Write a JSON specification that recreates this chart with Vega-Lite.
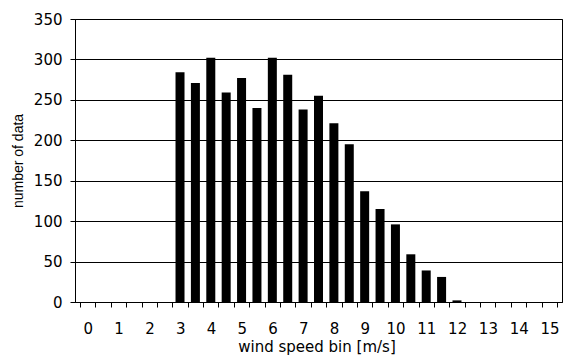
{
  "$schema": "https://vega.github.io/schema/vega-lite/v6.json",
  "width": 487,
  "height": 283,
  "autosize": "none",
  "padding": {"left": 75, "top": 19, "right": 1, "bottom": 54},
  "background": "white",
  "config": {
    "view": {"stroke": "black", "strokeWidth": 1},
    "axis": {
      "labelFont": "DejaVu Sans",
      "labelFontSize": 15,
      "labelColor": "black",
      "titleFont": "DejaVu Sans",
      "titleFontSize": 15,
      "titleFontWeight": "normal",
      "titleColor": "black",
      "domainColor": "black",
      "tickColor": "black",
      "gridColor": "black",
      "gridOpacity": 1
    }
  },
  "data": {
    "values": [
      {"speed": 3, "count": 284},
      {"speed": 3.5, "count": 271},
      {"speed": 4, "count": 302},
      {"speed": 4.5, "count": 259},
      {"speed": 5, "count": 277},
      {"speed": 5.5, "count": 240},
      {"speed": 6, "count": 302},
      {"speed": 6.5, "count": 281},
      {"speed": 7, "count": 238},
      {"speed": 7.5, "count": 255},
      {"speed": 8, "count": 221},
      {"speed": 8.5, "count": 195},
      {"speed": 9, "count": 137},
      {"speed": 9.5, "count": 115},
      {"speed": 10, "count": 96},
      {"speed": 10.5, "count": 59},
      {"speed": 11, "count": 39},
      {"speed": 11.5, "count": 31},
      {"speed": 12, "count": 2}
    ]
  },
  "mark": {"type": "bar", "color": "black", "width": 9},
  "encoding": {
    "x": {
      "field": "speed",
      "type": "quantitative",
      "scale": {"domain": [-0.25, 15.25], "nice": false, "zero": false},
      "axis": {
        "title": "wind speed bin [m/s]",
        "titleX": 241.5,
        "titleY": 49,
        "titleBaseline": "alphabetic",
        "titleAlign": "center",
        "values": [-0.25, 0.25, 0.75, 1.25, 1.75, 2.25, 2.75, 3.25, 3.75, 4.25, 4.75, 5.25, 5.75, 6.25, 6.75, 7.25, 7.75, 8.25, 8.75, 9.25, 9.75, 10.25, 10.75, 11.25, 11.75, 12.25, 12.75, 13.25, 13.75, 14.25, 14.75, 15.25],
        "labelExpr": "(datum.value + 0.25) % 1 == 0 ? format(datum.value + 0.25, 'd') : ''",
        "labelOffset": 7.85,
        "labelOverlap": false,
        "labelBound": false,
        "labelFlush": false,
        "labelBaseline": "alphabetic",
        "labelPadding": 26,
        "tickSize": 5,
        "grid": false
      }
    },
    "y": {
      "field": "count",
      "type": "quantitative",
      "scale": {"domain": [0, 350], "nice": false},
      "axis": {
        "title": "number of data",
        "titleFont": "Liberation Sans",
        "titleFontSize": 14,
        "titleX": -57,
        "titleY": 141.5,
        "titleAngle": 270,
        "titleBaseline": "middle",
        "titleAlign": "center",
        "values": [0, 50, 100, 150, 200, 250, 300, 350],
        "grid": true,
        "tickSize": 5,
        "labelPadding": 8,
        "labelBaseline": "middle"
      }
    }
  }
}
